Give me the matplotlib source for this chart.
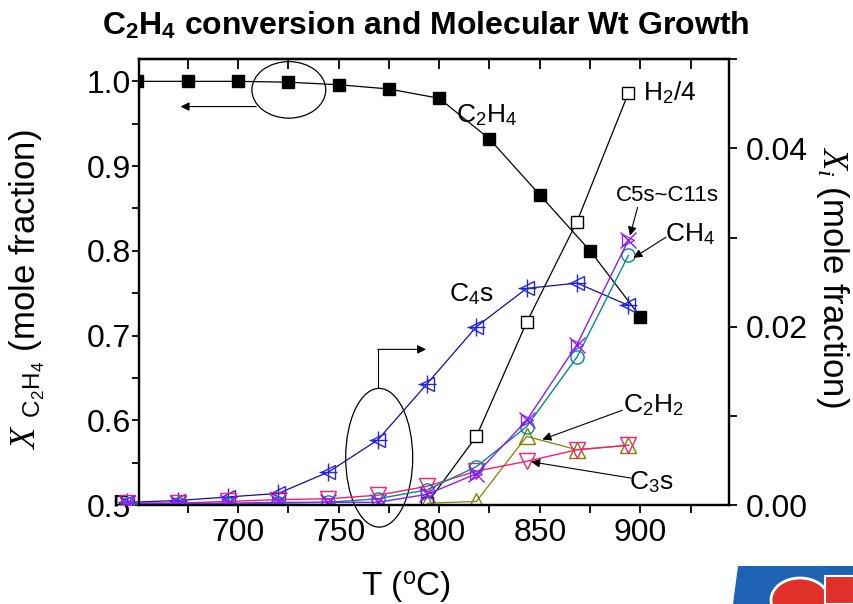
import matplotlib
matplotlib.use("Agg")
import matplotlib.pyplot as plt
from matplotlib.patches import Ellipse, Rectangle, Polygon
from matplotlib.ticker import MultipleLocator, FormatStrFormatter, NullFormatter

plt.rcParams['font.family'] = ['Liberation Sans', 'DejaVu Sans']
plt.rcParams['mathtext.fontset'] = 'custom'
plt.rcParams['mathtext.rm'] = 'Liberation Sans'
plt.rcParams['mathtext.it'] = 'Liberation Serif:italic'
plt.rcParams['mathtext.bf'] = 'Liberation Sans:bold'

# ---------------- data ----------------
T_left = [650, 675, 700, 725, 750, 775, 800, 825, 850, 875, 900]
C2H4 = [1.000, 1.000, 1.000, 0.999, 0.996, 0.991, 0.980, 0.932, 0.866, 0.800, 0.722]

T_right = [645, 670, 695, 720, 745, 769.5, 794, 818.5, 843.5, 868.5, 894]
C4s = [0.0003, 0.0005, 0.0009, 0.0013, 0.0037, 0.0073, 0.0136, 0.0200, 0.0243, 0.0249, 0.0224]
C3s = [0.0002, 0.0002, 0.0004, 0.0006, 0.0007, 0.0011, 0.0021, 0.0038, 0.0049, 0.0062, 0.0067]
CH4 = [0.0001, 0.0001, 0.0001, 0.0002, 0.0003, 0.0007, 0.0017, 0.0043, 0.0088, 0.0166, 0.0280]
C5_C11 = [0.0002, 0.0002, 0.0002, 0.0003, 0.0003, 0.0003, 0.0012, 0.0035, 0.0095, 0.0180, 0.0297]

T_H2 = [794, 818.5, 843.5, 868.5, 894]
H2_4 = [0.0002, 0.0077, 0.0205, 0.0318, 0.0462]

T_C2H2 = [794, 818.5, 843.5, 868.5, 894]
C2H2 = [0.0002, 0.0004, 0.0077, 0.0062, 0.0067]

x_major = [700, 750, 800, 850, 900]
left_ticks = [0.5, 0.6, 0.7, 0.8, 0.9, 1.0]
right_ticks = [0.00, 0.02, 0.04]

# ---------------- figure ----------------
fig = plt.figure(figsize=(8.54, 6.04), dpi=100)
ax = fig.add_axes([0.1631, 0.1639, 0.6905, 0.7379])
ax2 = ax.twinx()

ax.set_xlim(651, 944)
ax.set_ylim(0.5, 1.026)
ax2.set_ylim(0.0, 0.05)

for a in (ax, ax2):
    for s in a.spines.values():
        s.set_linewidth(1.6)

ax.set_xticks(x_major)
ax.xaxis.set_minor_locator(MultipleLocator(50, offset=25))
ax.set_yticks(left_ticks)
ax.yaxis.set_major_formatter(FormatStrFormatter('%.1f'))
ax.yaxis.set_minor_locator(MultipleLocator(0.1, offset=0.05))
ax.tick_params(axis='x', which='both', direction='out', length=6, width=1.3,
               labelsize=23, pad=3, top=False)
ax.tick_params(axis='y', which='both', direction='out', length=5, width=1.3,
               labelsize=23, pad=1)

ax2.set_yticks(right_ticks)
ax2.yaxis.set_major_formatter(FormatStrFormatter('%.2f'))
ax2.yaxis.set_minor_locator(MultipleLocator(0.02, offset=0.01))
ax2.tick_params(axis='y', which='both', direction='out', length=6, width=1.3,
                labelsize=23, pad=6)

sec = ax.secondary_xaxis('top')
sec.set_xticks(x_major)
sec.xaxis.set_minor_locator(MultipleLocator(50, offset=25))
sec.tick_params(axis='x', which='both', direction='in', length=7, width=1.3,
                labeltop=False)
sec.xaxis.set_major_formatter(NullFormatter())
sec.spines['top'].set_linewidth(1.6)

# ---------------- series ----------------
ax.plot(T_left, C2H4, color='black', lw=0.9, marker='s', ms=9,
        mfc='black', mec='black', zorder=3)

clip_rect = Rectangle((-0.06, 0.0), 1.12, 1.1, transform=ax2.transAxes,
                      visible=False)
ax2.add_patch(clip_rect)

def rplot(x, y, **kw):
    lines = ax2.plot(x, y, **kw)
    for ln in lines:
        ln.set_clip_path(clip_rect)
    return lines

# C4s
rplot(T_right, C4s, color='#10109a', lw=0.9, marker='<', ms=10, mfc='none',
      mec='#2424e0', mew=1.0)
rplot(T_right, C4s, ls='none', marker='+', ms=13, mec='#2424e0', mew=1.0)
# H2/4
rplot(T_H2, H2_4, color='black', lw=0.9, marker='s', ms=9, mfc='white',
      mec='black', mew=1.0)
# C2H2
rplot(T_C2H2, C2H2, color='#808000', lw=0.9, marker='^', ms=11, mfc='none',
      mec='#808000', mew=1.0)
# C3s
rplot(T_right, C3s, color='#ff1a6e', lw=1.0, marker='v', ms=11, mfc='none',
      mec='#ff1a6e', mew=1.0)
# CH4
rplot(T_right, CH4, color='#008b8b', lw=1.0, marker='o', ms=9.5, mfc='none',
      mec='#008b8b', mew=1.0)
# C5s~C11s
rplot(T_right, C5_C11, color='#8c1aff', lw=1.0, marker='x', ms=12, mfc='none',
      mec='#8c1aff', mew=1.0)
rplot(T_right, C5_C11, ls='none', marker='>', ms=9, mfc='none',
      mec='#8c1aff', mew=0.9)

# ---------------- annotations ----------------
lab_fs = 19
sub = dict(fontsize=lab_fs, va='center')
ax2.text(838.8, 0.04377, r'C$_2$H$_4$', ha='right', **sub)
ax2.text(901.5, 0.04627, r'H$_2$/4', ha='left', **sub)
ax2.text(913.5, 0.0347, 'C5s~C11s', ha='center', va='center', fontsize=16)
ax2.text(912.4, 0.03042, r'CH$_4$', ha='left', **sub)
ax2.text(805.1, 0.0237, r'C$_4$s', ha='left', **sub)
ax2.text(891.1, 0.0112, r'C$_2$H$_2$', ha='left', **sub)
ax2.text(894.4, 0.0026, r'C$_3$s', ha='left', **sub)

ap = dict(arrowstyle='-|>', color='black', lw=0.8, mutation_scale=13,
          shrinkA=0, shrinkB=0)
arrows = [((898.6, 0.0334), (894.8, 0.03022)),
          ((912.7, 0.03004), (896.5, 0.02773)),
          ((891.0, 0.01063), (851.3, 0.00735)),
          ((895.3, 0.00302), (845.7, 0.00485)),
          ((709.1, 0.0447), (671.5, 0.0447)),
          ((769.5, 0.01746), (793.5, 0.01746))]
for (x0, y0), (x1, y1) in arrows:
    ax2.annotate('', xy=(x1, y1), xytext=(x0, y0), arrowprops=ap,
                 annotation_clip=False)
ax2.plot([769.5, 769.5], [0.0131, 0.01746], color='black', lw=0.8,
         clip_on=False)

ax2.add_patch(Ellipse((725.3, 0.04657), 36.7, 0.00634, fill=False,
                      ec='black', lw=0.9, clip_on=False))
ax2.add_patch(Ellipse((770.2, 0.0053), 33.3, 0.01556, fill=False,
                      ec='black', lw=0.9, clip_on=False))

# ---------------- labels ----------------
fig.text(0.032, 0.52, r'$X$ $_{\mathrm{C_2H_4}}$ (mole fraction)', rotation=90,
         ha='center', va='center', fontsize=25)
fig.text(0.9754, 0.542, r'$X_i$ (mole fraction)', rotation=270,
         ha='center', va='center', fontsize=25)
fig.text(0.475, 0.028, r'T ($^{\mathrm{o}}$C)', ha='center', va='center',
         fontsize=24)
fig.text(0.498, 0.957, r'C$_\mathbf{2}$H$_\mathbf{4}$ conversion and Molecular Wt Growth',
         ha='center', va='center', fontsize=23, fontweight='bold')

# ---------------- corner logo ----------------
W, H = 854.0, 604.0
fig.add_artist(Polygon([(738 / W, 1 - 566 / H), (854 / W, 1 - 566 / H),
                        (854 / W, 0), (733 / W, 0)], closed=True,
                       transform=fig.transFigure, fc='#1f64b4', ec='none'))
fig.add_artist(Ellipse((800 / W, 1 - 600 / H), 58 / W, 44 / H,
                       transform=fig.transFigure, fc='#e0302a', ec='white',
                       lw=2))
fig.add_artist(Rectangle((825 / W, 0), 29 / W, 28 / H,
                         transform=fig.transFigure, fc='#e0302a', ec='white',
                         lw=1.5))

fig.savefig('out.png', dpi=100)
